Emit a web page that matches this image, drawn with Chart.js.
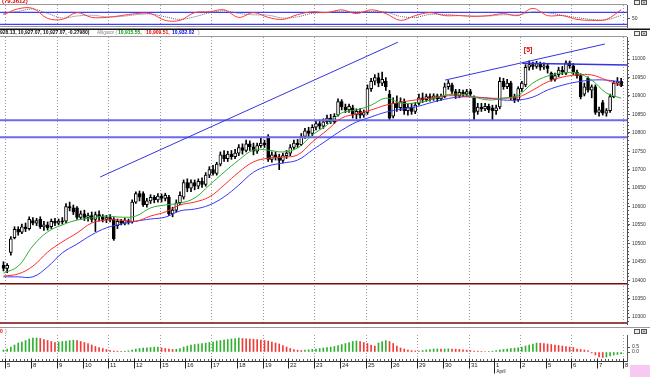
<!DOCTYPE html>
<html>
<head>
<meta charset="utf-8">
<title>Alligator hourly chart</title>
<script src="https://cdn.jsdelivr.net/npm/chart.js@4.4.1/dist/chart.umd.min.js"></script>
<style>
  html, body { margin: 0; padding: 0; background: #fff; }
  #wrap { position: relative; width: 650px; height: 377px; overflow: hidden; background: #fff; }
  #wrap canvas { position: absolute; left: 0; }
</style>
</head>
<body>
<div id="wrap">
  <canvas id="osc" width="650" height="32" style="top:0"></canvas>
  <canvas id="price" width="650" height="302" style="top:28px"></canvas>
  <canvas id="hist" width="650" height="50" style="top:327px"></canvas>
</div>
<script>
// ---- data (hourly bars, 7 per session) ----
const dayLabels = ['5','8','9','10','11','12','15','16','17','18','19','22','23','24','25','26','29','30','31','1','2','5','6','7','8'];
const dayStartBar = [1,8,15,22,29,36,43,50,57,64,71,78,85,92,99,106,113,120,127,134,141,148,155,162,169];

const openP = [10440,10432,10475,10515,10538,10530,10545,10540, 10562,10555,10565,10545,10550,10545,10560, 10555,10560,10560,10600,10596,10596,10570, 10580,10570,10575,10565,10578,10572,10565, 10570,10565,10548,10560,10555,10560,10558, 10612,10635,10635,10605,10615,10625,10618, 10628,10622,10625,10580,10590,10610,10625, 10665,10650,10665,10655,10668,10660,10685, 10700,10690,10715,10740,10730,10742,10735, 10745,10760,10752,10770,10762,10750,10765, 10772,10790,10728,10740,10735,10725,10738, 10745,10760,10772,10768,10790,10805,10798, 10815,10825,10818,10830,10840,10830,10848, 10885,10870,10862,10868,10850,10858,10848, 10855,10920,10940,10950,10935,10940,10905, 10845,10880,10868,10885,10860,10870,10858, 10880,10895,10890,10898,10893,10900,10892, 10898,10925,10930,10912,10900,10910,10905, 10912,10895,10858,10870,10865,10872,10868, 10860,10870,10940,10925,10935,10898,10890, 10920,10930,10978,10985,10980,10988,10978, 10982,10962,10945,10958,10970,10962,10990, 10982,10965,10955,10905,10948,10916,10925, 10855,10882,10853,10860,10898,10935,10940];
const highP = [10450,10445,10518,10545,10545,10552,10555,10572, 10570,10568,10572,10560,10558,10566,10568, 10566,10570,10608,10612,10604,10600,10588, 10590,10582,10585,10585,10588,10578,10576, 10578,10570,10566,10565,10568,10566,10618, 10640,10642,10640,10622,10632,10630,10635, 10634,10636,10630,10598,10618,10640,10672, 10675,10672,10672,10675,10678,10692,10708, 10712,10720,10748,10752,10750,10752,10755, 10768,10770,10780,10778,10772,10772,10785, 10780,10795,10748,10748,10742,10745,10752, 10768,10780,10782,10798,10812,10815,10822, 10832,10835,10838,10848,10850,10852,10892, 10890,10878,10878,10875,10865,10866,10862, 10930,10948,10958,10962,10965,10950,10915, 10895,10900,10895,10892,10878,10880,10882, 10905,10908,10905,10906,10906,10905,10905, 10935,10942,10935,10918,10918,10916,10918, 10918,10900,10880,10880,10880,10878,10875, 10875,10950,10948,10945,10940,10905,10925, 10940,10985,10995,10992,10994,10992,10990, 10988,10965,10962,10978,10980,10995,10995, 10988,10970,10960,10935,10952,10930,10930, 10870,10888,10866,10905,10940,10950,10948];
const lowP = [10425,10420,10468,10512,10522,10526,10532,10536, 10550,10548,10540,10535,10536,10540,10548, 10550,10552,10556,10588,10578,10565,10565, 10562,10560,10558,10532,10560,10558,10556, 10558,10508,10540,10550,10550,10552,10555, 10608,10615,10600,10598,10608,10610,10612, 10612,10615,10575,10572,10585,10605,10620, 10640,10640,10645,10648,10652,10655,10678, 10685,10685,10710,10722,10722,10728,10730, 10738,10742,10748,10752,10740,10744,10760, 10760,10722,10720,10726,10700,10718,10730, 10738,10755,10760,10765,10785,10790,10792, 10808,10810,10812,10825,10825,10825,10845, 10862,10855,10855,10840,10838,10840,10842, 10850,10912,10930,10925,10928,10915,10835, 10840,10858,10860,10850,10848,10850,10852, 10875,10882,10885,10886,10888,10885,10888, 10895,10918,10905,10893,10895,10898,10898, 10898,10835,10850,10858,10860,10855,10835, 10850,10865,10918,10920,10890,10882,10885, 10912,10925,10970,10972,10975,10970,10972, 10962,10940,10940,10952,10958,10958,10975, 10958,10948,10892,10900,10910,10895,10850, 10845,10848,10845,10855,10895,10928,10925];
const closeP = [10432,10440,10512,10538,10530,10545,10540,10565, 10555,10562,10545,10550,10542,10560,10555, 10560,10558,10600,10596,10585,10570,10580, 10570,10575,10565,10578,10572,10565,10570, 10565,10512,10560,10555,10562,10558,10612, 10635,10625,10605,10615,10625,10618,10628, 10622,10630,10580,10590,10610,10630,10665, 10650,10665,10655,10668,10660,10685,10700, 10690,10715,10740,10730,10742,10735,10745, 10760,10752,10770,10762,10750,10765,10772, 10768,10728,10740,10735,10725,10738,10745, 10760,10772,10768,10790,10805,10798,10815, 10825,10818,10830,10840,10830,10845,10885, 10870,10862,10872,10850,10858,10848,10855, 10920,10940,10950,10935,10945,10925,10840, 10880,10868,10885,10860,10870,10858,10875, 10895,10890,10898,10893,10900,10892,10898, 10925,10935,10912,10900,10910,10905,10912, 10905,10855,10870,10865,10872,10862,10860, 10868,10940,10925,10935,10898,10890,10920, 10935,10978,10985,10980,10988,10978,10982, 10975,10945,10955,10970,10965,10990,10982, 10965,10955,10898,10925,10916,10925,10855, 10862,10853,10860,10898,10935,10940,10928];

// awesome-oscillator style histogram, one value per bar
const histAO = [0.2,0.3,0.5,0.7,0.9,1.0,1.15,1.3, 1.4,1.4,1.35,1.25,1.15,1.05,0.95, 1.0,1.05,1.1,1.15,1.18,1.13,1.05, 0.95,0.85,0.7,0.55,0.45,0.35,0.25, 0.15,0.1,0.08,0.06,0.08,0.12,0.2, 0.3,0.35,0.4,0.42,0.45,0.48,0.5, 0.4,0.35,0.3,0.25,0.28,0.35,0.5, 0.6,0.7,0.75,0.8,0.85,0.9,0.95, 1.0,1.1,1.15,1.2,1.25,1.3,1.35, 1.4,1.35,1.32,1.3,1.28,1.25,1.2, 1.15,1.1,1.0,0.9,0.8,0.65,0.5, 0.35,0.25,0.18,0.15,0.18,0.22,0.26, 0.3,0.35,0.4,0.45,0.5,0.55,0.65, 0.75,0.85,0.95,1.05,1.1,1.05,0.95, 0.85,0.7,0.6,0.9,1.05,1.15,1.05, 0.85,0.6,0.4,0.3,0.2,0.15,0.1, 0.08,0.15,0.2,0.25,0.3,0.3,0.28, 0.3,0.32,0.3,0.28,0.26,0.22,0.18, 0.14,0.1,0.08,0.06,0.05,0.06,0.08, 0.15,0.2,0.25,0.3,0.35,0.38,0.42, 0.5,0.6,0.7,0.8,0.9,0.88,0.85, 0.8,0.75,0.7,0.65,0.6,0.55,0.5, 0.45,0.3,0.25,0.2,0.15,-0.1,-0.3, -0.5,-0.55,-0.5,-0.4,-0.3,-0.25,-0.2];

// alligator lines and oscillator, read every 4th bar
const maBars = [0,4,8,12,16,20,24,28,32,36,40,44,48,52,56,60,64,68,72,76,80,84,88,92,96,100,104,108,112,116,120,124,128,132,136,140,144,148,152,156,160,164,168];
const lipsG = [10419,10438,10493,10531,10550,10563,10569,10574,10571,10574,10596,10604,10609,10623,10658,10693,10726,10753,10753,10748,10759,10794,10821,10854,10862,10875,10894,10881,10881,10889,10902,10905,10897,10889,10894,10902,10935,10954,10962,10962,10943,10908,10894];
const teethR = [10411,10417,10438,10476,10504,10528,10555,10563,10563,10560,10574,10585,10604,10612,10626,10658,10693,10721,10731,10734,10740,10775,10807,10840,10851,10862,10875,10883,10889,10894,10900,10900,10897,10894,10894,10897,10916,10938,10951,10957,10957,10943,10929];
const jawB = [10409,10409,10409,10436,10474,10498,10523,10542,10552,10560,10566,10571,10588,10593,10604,10626,10658,10693,10710,10718,10726,10753,10780,10807,10829,10843,10856,10864,10870,10881,10891,10897,10897,10894,10889,10889,10897,10916,10929,10938,10943,10943,10938];
const oscK = [69,98,100,50,45,79,55,55,64,74,74,40,40,79,83,93,55,79,55,45,69,83,79,93,74,93,74,40,64,79,64,64,60,64,74,64,100,64,64,45,40,45,93];
const oscD = [75,85,97,75,52,62,66,58,60,68,72,58,45,58,78,88,75,68,66,52,58,75,80,86,82,85,82,60,55,70,70,65,62,62,68,68,82,78,66,54,45,43,65];

// drawn lines and levels
const trendABars = [26.3, 107.3], trendAPrices = [10680, 11046];
const trendBBars = [120.1, 163.6], trendBPrices = [10943, 11041];
const flatBars = [141.1, 169.6], flatPrices = [10989, 10984];
const levelBlue = [10834, 10788];
const levelRed = [10390, 10284];
const markBar = [142.7], markPrice = [11024], markText = ['[5]'];

const priceTicks = [10300,10350,10400,10450,10500,10550,10600,10650,10700,10750,10800,10850,10900,10950,11000];
const oscTicks = [50];
const histTicks = [0, 0.5];

// ---- helpers ----
Chart.defaults.font.family = '"Liberation Sans", Arial, sans-serif';
const X_MIN = -0.95, X_MAX = 169.6;

function rightAxis(min, max, ticks, fmt) {
  return {
    position: 'right', min: min, max: max,
    afterFit: s => { s.width = 23; },
    afterBuildTicks: s => { s.ticks = ticks.map(v => ({ value: v })); },
    grid: { drawOnChartArea: false, tickLength: 3, color: '#555' },
    border: { color: '#555' },
    ticks: { padding: 2, color: '#333', font: { size: 5 }, callback: v => fmt(v) }
  };
}

function baseOptions(pad, yAxis) {
  return {
    responsive: false, devicePixelRatio: 1, animation: false, events: [],
    layout: { padding: pad },
    plugins: { legend: { display: false }, tooltip: { enabled: false } },
    scales: { x: { type: 'linear', min: X_MIN, max: X_MAX, offset: false, display: false }, y: yAxis }
  };
}

function lineSet(xs, ys, color, width, extra) {
  return Object.assign({
    type: 'line', data: xs.map((b, j) => ({ x: b, y: ys[j] })),
    borderColor: color, borderWidth: width, pointRadius: 0, fill: false, tension: 0, order: 0
  }, extra || {});
}

const dayGrid = {
  id: 'dayGrid',
  beforeDatasetsDraw(chart) {
    const { ctx, chartArea: a, scales: { x } } = chart;
    ctx.save();
    ctx.strokeStyle = '#9a9a9a';
    ctx.lineWidth = 1;
    ctx.setLineDash([1, 2]);
    dayStartBar.forEach((b, k) => {
      if (k % 2) return;
      const px = Math.round(x.getPixelForValue(b - 0.5)) + 0.5;
      if (px < a.left || px > a.right) return;
      ctx.beginPath(); ctx.moveTo(px, a.top); ctx.lineTo(px, a.bottom); ctx.stroke();
    });
    ctx.restore();
  }
};

function txt(ctx, s, x, y, color, font, maxW) {
  ctx.fillStyle = color; ctx.font = font;
  ctx.textBaseline = 'middle'; ctx.textAlign = 'left';
  if (maxW) ctx.fillText(s, x, y, maxW); else ctx.fillText(s, x, y);
}

function winIcons(ctx, y) {
  ctx.save();
  ctx.strokeStyle = '#555'; ctx.fillStyle = '#eee'; ctx.lineWidth = 1;
  ctx.fillRect(634, y, 6, 5); ctx.strokeRect(634.5, y + 0.5, 5, 4);
  ctx.fillRect(641, y, 6, 5); ctx.strokeRect(641.5, y + 0.5, 5, 4);
  ctx.beginPath();
  ctx.moveTo(643, y + 1.5); ctx.lineTo(645, y + 3.5);
  ctx.moveTo(645, y + 1.5); ctx.lineTo(643, y + 3.5);
  ctx.stroke();
  ctx.restore();
}

// ---- oscillator panel ----
new Chart(document.getElementById('osc'), {
  type: 'line',
  data: {
    datasets: [
      lineSet(maBars, oscK, '#ff3b3b', 1, { tension: 0.35 }),
      lineSet(maBars, oscD, '#666', 1, { tension: 0.35, borderDash: [1, 1] }),
      lineSet([X_MIN, X_MAX], [80, 80], '#3d3dff', 1.3),
      lineSet([X_MIN, X_MAX], [20, 20], '#3d3dff', 1.3)
    ]
  },
  options: baseOptions({ left: 0, right: 0, top: 5, bottom: 4 }, rightAxis(7, 117, oscTicks, v => String(v))),
  plugins: [dayGrid, {
    id: 'oscFrame',
    afterDraw(chart) {
      const { ctx, chartArea: a } = chart;
      ctx.save();
      ctx.strokeStyle = '#999'; ctx.lineWidth = 1;
      ctx.beginPath();
      ctx.moveTo(0, a.top - 0.5); ctx.lineTo(a.right, a.top - 0.5);
      ctx.moveTo(0, a.bottom - 0.5); ctx.lineTo(a.right, a.bottom - 0.5);
      ctx.stroke();
      txt(ctx, '(79.3612)', 2, 1.5, '#e00000', 'bold 6px "Liberation Sans"');
      winIcons(ctx, 0);
      ctx.restore();
    }
  }]
});

// ---- price panel ----
const candleBars = openP.map((o, i) => i);
new Chart(document.getElementById('price'), {
  type: 'bar',
  data: {
    datasets: [
      lineSet(maBars, lipsG, '#2fae2f', 1, { tension: 0.4 }),
      lineSet(maBars, teethR, '#ff2a2a', 1, { tension: 0.4 }),
      lineSet(maBars, jawB, '#3636ff', 1, { tension: 0.4 }),
      lineSet(trendABars, trendAPrices, '#3434e0', 1),
      lineSet(trendBBars, trendBPrices, '#3434e0', 1),
      lineSet(flatBars, flatPrices, '#3434e0', 1.5),
      lineSet([X_MIN, X_MAX], [levelBlue[0], levelBlue[0]], '#6a6af2', 2),
      lineSet([X_MIN, X_MAX], [levelBlue[1], levelBlue[1]], '#6a6af2', 2),
      lineSet([X_MIN, X_MAX], [levelRed[0], levelRed[0]], '#7a0a0a', 1.5),
      lineSet([X_MIN, X_MAX], [levelRed[1], levelRed[1]], '#7a0a0a', 1.5),
      {
        type: 'bar', order: 1, grouped: false, barThickness: 3, minBarLength: 1,
        data: candleBars.map(i => ({ x: i, y: [Math.min(openP[i], closeP[i]), Math.max(openP[i], closeP[i])] })),
        backgroundColor: candleBars.map(i => closeP[i] >= openP[i] ? '#ffffff' : '#000000'),
        borderColor: '#000', borderWidth: 1, borderSkipped: false
      },
      {
        type: 'bar', order: 2, grouped: false, barThickness: 1,
        data: candleBars.map(i => ({ x: i, y: [lowP[i], highP[i]] })),
        backgroundColor: '#000', borderWidth: 0
      }
    ]
  },
  options: baseOptions({ left: 0, right: 0, top: 9, bottom: 6 }, rightAxis(10281, 11060, priceTicks, v => String(v))),
  plugins: [dayGrid, {
    id: 'priceFrame',
    afterDraw(chart) {
      const { ctx, chartArea: a, scales: { x, y } } = chart;
      ctx.save();
      ctx.fillStyle = '#111';
      ctx.fillRect(0, 0.5, 650, 1.5);
      ctx.strokeStyle = '#999'; ctx.lineWidth = 1;
      ctx.beginPath(); ctx.moveTo(0, a.top - 0.5); ctx.lineTo(a.right, a.top - 0.5); ctx.stroke();
      // minor ticks every 10 points
      ctx.strokeStyle = '#555';
      ctx.beginPath();
      for (let p = 10290; p <= 11050; p += 10) {
        const py = Math.round(y.getPixelForValue(p)) + 0.5;
        ctx.moveTo(a.right, py); ctx.lineTo(a.right + 2, py);
      }
      ctx.stroke();
      // legend line
      const f = 'bold 5px "Liberation Sans"';
      txt(ctx, '928.13, 10,927.07, 10,927.07, -0.27980)', 0, 5, '#111', f, 95);
      txt(ctx, 'Alligator (', 97, 5, '#888', '5px "Liberation Sans"', 20);
      txt(ctx, '10,915.55,', 118, 5, '#0a9a0a', f, 26);
      txt(ctx, '10,909.51,', 146, 5, '#ee0000', f, 25);
      txt(ctx, '10,932.02', 172, 5, '#0000ee', f, 25);
      txt(ctx, ')', 198, 5, '#888', '5px "Liberation Sans"');
      winIcons(ctx, 3);
      // wave label
      markBar.forEach((b, j) => {
        ctx.fillStyle = '#e00000'; ctx.font = 'bold 7px "Liberation Sans"';
        ctx.textAlign = 'center'; ctx.textBaseline = 'middle';
        ctx.fillText(markText[j], x.getPixelForValue(b), y.getPixelForValue(markPrice[j]));
      });
      ctx.restore();
    }
  }]
});

// ---- histogram panel with the date axis ----
new Chart(document.getElementById('hist'), {
  type: 'bar',
  data: {
    datasets: [{
      data: histAO.map((v, i) => ({ x: i, y: v })),
      backgroundColor: histAO.map((v, i) => (i === 0 || v >= histAO[i - 1]) ? '#2fb02f' : '#f03a3a'),
      barThickness: 1, grouped: false
    }]
  },
  options: baseOptions({ left: 0, right: 0, top: 8, bottom: 16 }, rightAxis(-0.9, 1.7, histTicks, v => v.toFixed(1))),
  plugins: [dayGrid, {
    id: 'dateAxis',
    afterDraw(chart) {
      const { ctx, chartArea: a, scales: { x } } = chart;
      ctx.save();
      ctx.strokeStyle = '#999'; ctx.lineWidth = 1;
      ctx.beginPath(); ctx.moveTo(0, 0.5); ctx.lineTo(650, 0.5); ctx.stroke();
      txt(ctx, '0', 0, 5, '#e00000', 'bold 5px "Liberation Sans"');
      txt(ctx, ')', 5, 5, '#777', '5px "Liberation Sans"');
      winIcons(ctx, 2);
      const base = a.bottom + 0.5;
      ctx.strokeStyle = '#333';
      ctx.beginPath(); ctx.moveTo(0, base); ctx.lineTo(a.right, base); ctx.stroke();
      ctx.strokeStyle = '#555';
      ctx.beginPath();
      for (let b = 0; b <= 169; b++) {
        const px = Math.round(x.getPixelForValue(b - 0.5)) + 0.5;
        if (px > a.right) break;
        ctx.moveTo(px, base - 2.5); ctx.lineTo(px, base);
      }
      ctx.stroke();
      ctx.strokeStyle = '#222';
      dayStartBar.forEach((b, k) => {
        const px = Math.round(x.getPixelForValue(b - 0.5)) + 0.5;
        ctx.beginPath(); ctx.moveTo(px, base - 3); ctx.lineTo(px, base + (k === 19 ? 12 : 7)); ctx.stroke();
        txt(ctx, dayLabels[k], px + 1.5, base + 4, '#222', '6px "Liberation Sans"');
        if (k === 19) txt(ctx, 'April', px + 2, base + 10.5, '#222', '4.5px "Liberation Sans"');
      });
      ctx.fillStyle = '#f6c8f4';
      ctx.fillRect(630, 38, 20, 12);
      ctx.restore();
    }
  }]
});
</script>
</body>
</html>
